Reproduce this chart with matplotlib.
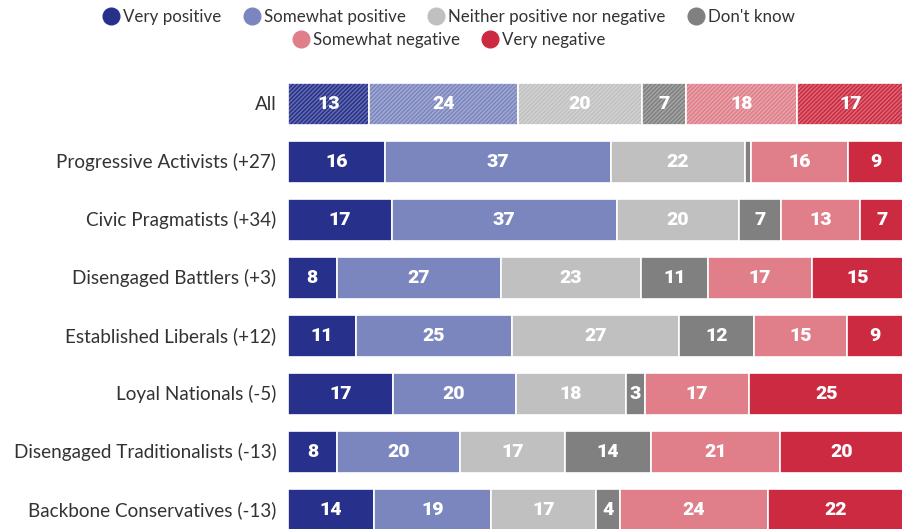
import numpy as np
import matplotlib.pyplot as plt
from matplotlib.lines import Line2D
from matplotlib.colors import to_rgb

# Data
groups = ["All", "Progressive Activists (+27)", "Civic Pragmatists (+34)",
          "Disengaged Battlers (+3)", "Established Liberals (+12)",
          "Loyal Nationals (-5)", "Disengaged Traditionalists (-13)",
          "Backbone Conservatives (-13)"]
responses = ["Very positive", "Somewhat positive", "Neither positive nor negative",
             "Don't know", "Somewhat negative", "Very negative"]
very_pos = [13, 16, 17, 8, 11, 17, 8, 14]
somewhat_pos = [24, 37, 37, 27, 25, 20, 20, 19]
neither = [20, 22, 20, 23, 27, 18, 17, 17]
dont_know = [7, 1, 7, 11, 12, 3, 14, 4]
somewhat_neg = [18, 16, 13, 17, 15, 17, 21, 24]
very_neg = [17, 9, 7, 15, 9, 25, 20, 22]

colors = ["#27318b", "#7b86bf", "#c0c0c0", "#808080", "#e07f8a", "#cc2a40"]

series = np.array([very_pos, somewhat_pos, neither, dont_know, somewhat_neg, very_neg], float)
totals = series.sum(axis=0)
shares = series / totals * 100

plt.rcParams['font.family'] = ['Lato', 'DejaVu Sans']
plt.rcParams['hatch.linewidth'] = 1.0

W, H = 903, 529
fig = plt.figure(figsize=(W / 100, H / 100), dpi=100)
ax = fig.add_axes([288 / W, 0, 1 - 288 / W, 1])

row0, step = 104, 58
ax.set_ylim((H - row0) / step, -row0 / step)
ax.set_xlim(0, 100)
ax.axis('off')

y = np.arange(len(groups))
left = np.zeros(len(groups))
for k in range(len(responses)):
    c = np.array(to_rgb(colors[k]))
    light = c + (1 - c) * 0.3
    for i in y:
        w = shares[k, i]
        if i == 0:
            ax.barh(i, w, left=left[i], height=0.73, color=colors[k],
                    edgecolor=light, linewidth=0, hatch='////////')
            ax.barh(i, w, left=left[i], height=0.73, fill=False,
                    edgecolor='white', linewidth=1.2)
        else:
            ax.barh(i, w, left=left[i], height=0.73, color=colors[k],
                    edgecolor='white', linewidth=1.2)
        if series[k, i] >= 2:
            ax.text(left[i] + w / 2, i, f"{int(series[k, i])}", ha='center',
                    va='center', color='white', fontsize=14, fontweight='heavy',
                    family=['Roboto', 'DejaVu Sans'])
    left += shares[k]

for i, g in enumerate(groups):
    ax.text(-1.9, i, g, ha='right', va='center', fontsize=13.6, color='#333333')

handles = [Line2D([], [], marker='o', linestyle='', markersize=12,
                  markerfacecolor=c, markeredgecolor=c) for c in colors]
leg1 = fig.legend(handles[:4], responses[:4], loc='center', ncol=4,
                  bbox_to_anchor=(448 / W, 1 - 17 / H), frameon=False,
                  fontsize=12.2, handletextpad=0.1, columnspacing=1.2,
                  handlelength=1.2)
for t in leg1.get_texts():
    t.set_color('#333333')
leg2 = fig.legend(handles[4:], responses[4:], loc='center', ncol=2,
                  bbox_to_anchor=(448 / W, 1 - 40 / H), frameon=False,
                  fontsize=12.2, handletextpad=0.1, columnspacing=1.2,
                  handlelength=1.2)
for t in leg2.get_texts():
    t.set_color('#333333')

fig.savefig("out.png", dpi=100)
